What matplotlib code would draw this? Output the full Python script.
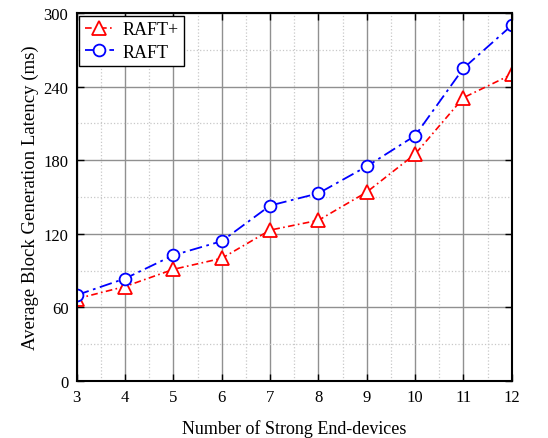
import matplotlib.pyplot as plt
from matplotlib.ticker import MultipleLocator

plt.rcParams['font.family'] = ['Liberation Serif', 'DejaVu Serif']
plt.rcParams['mathtext.fontset'] = 'stix'

# number of strong end-devices
devices = [3, 4, 5, 6, 7, 8, 9, 10, 11, 12]
# average block generation latency (ms)
raft_plus = [67, 77, 91, 100, 123, 131, 154, 185, 231, 250]
raft = [70, 83.5, 102.5, 114, 143, 153, 175, 200, 255, 290]

fig, ax = plt.subplots(figsize=(5.48, 4.39), dpi=100)
fig.subplots_adjust(left=0.14, right=0.934, top=0.968, bottom=0.13)

ax.plot(devices, raft_plus, color='red', linestyle=(0, (4, 2, 1, 2)), linewidth=1.2,
        marker='^', markersize=9.5, markerfacecolor='white', markeredgecolor='red',
        markeredgewidth=1.3, label='RAFT+')
ax.plot(devices, raft, color='blue', linestyle=(0, (7, 2.5, 1.5, 2.5)), linewidth=1.3,
        marker='o', markersize=8.5, markerfacecolor='white', markeredgecolor='blue',
        markeredgewidth=1.3, label='RAFT')

ax.set_xlim(3, 12)
ax.set_ylim(0, 300)
ax.xaxis.set_major_locator(MultipleLocator(1))
ax.xaxis.set_minor_locator(MultipleLocator(0.5))
ax.yaxis.set_major_locator(MultipleLocator(60))
ax.yaxis.set_minor_locator(MultipleLocator(30))

ax.grid(which='major', color='#909090', linestyle='-', linewidth=1.0)
ax.grid(which='minor', color='#c8c8c8', linestyle=':', linewidth=0.9)
ax.set_axisbelow(True)

ax.tick_params(which='major', direction='in', top=True, right=True, length=5,
               width=1.0, labelsize=12, pad=6)
ax.tick_params(which='minor', direction='in', top=False, right=False, length=0)
for s in ax.spines.values():
    s.set_linewidth(1.5)

ax.set_xlabel('Number of Strong End-devices', fontsize=13, labelpad=10)
ax.set_ylabel('Average Block Generation Latency (ms)', fontsize=13.5, labelpad=3)

leg = ax.legend(loc='upper left', fontsize=13, fancybox=False, framealpha=1,
                edgecolor='black', borderaxespad=0.15, handlelength=1.6,
                borderpad=0.3, labelspacing=0.3, handletextpad=0.5)
leg.get_frame().set_linewidth(1.0)

fig.savefig('out.png', dpi=100)
